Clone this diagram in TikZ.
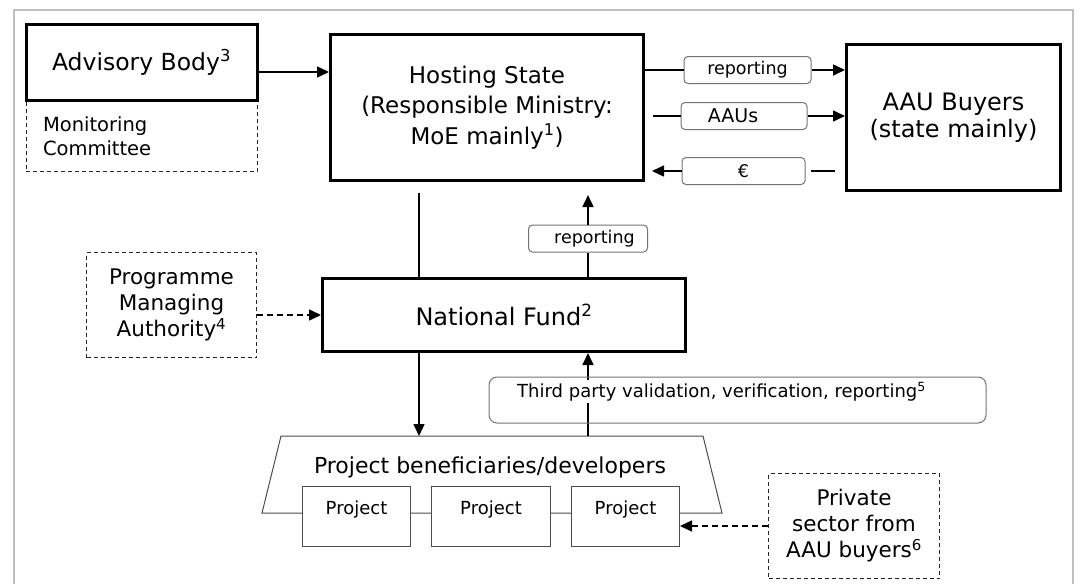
\documentclass[tikz,border=0pt]{standalone}
\usepackage{fontspec}
\setmainfont{DejaVu Sans}
\usetikzlibrary{arrows.meta}

\tikzset{
  thickbox/.style={draw, line width=3pt, align=center, inner sep=0pt},
  dashbox/.style={draw=black!85, line width=1pt, dash pattern=on 4pt off 3pt, align=center, inner sep=0pt},
  tag/.style={draw=black!55, line width=1pt, rounded corners=4pt, inner sep=0pt,
    minimum height=27pt, font=\fontsize{17.5}{21}\selectfont},
  projbox/.style={draw=black!70, line width=1pt, fill=white, minimum width=108pt,
    minimum height=60pt, inner sep=0pt, text depth=17pt, font=\fontsize{18}{22}\selectfont},
  arr/.style={line width=1.5pt, -{Triangle[length=12pt,width=11pt]}},
  darr/.style={arr, dash pattern=on 6pt off 4pt},
}

\begin{document}
\begin{tikzpicture}[x=1pt, y=-1pt]
  \useasboundingbox (0,0) rectangle (1080,584);
  \draw[black!25, line width=2pt] (14,600) -- (14,10) -- (1073,10) -- (1073,600); % frame
  %
  \coordinate (ya) at (0,72);
  \coordinate (cL) at (419,0);
  \coordinate (cR) at (588,0);
  %
  % top row
  \node[dashbox, minimum width=231pt, minimum height=70pt, text width=197pt, inner xsep=17pt,
    align=left, font=\fontsize{19.5}{24}\selectfont] (mon) at (141.5,136.5) {Monitoring\\Committee};
  \node[thickbox, minimum width=231pt, minimum height=76pt, font=\fontsize{23.5}{28}\selectfont]
    (adv) at (141.5,62) {Advisory Body\textsuperscript{3}};
  \node[thickbox, minimum width=313pt, minimum height=146pt, font=\fontsize{23}{30.5}\selectfont]
    (host) at (487,107.5) {Hosting State\\(Responsible Ministry:\\MoE mainly\textsuperscript{1})};
  \node[thickbox, minimum width=214pt, minimum height=146pt, font=\fontsize{24}{27}\selectfont]
    (buy) at (953.5,117.5) {AAU Buyers\\(state mainly)};
  %
  % labels between the top boxes
  \node[tag, minimum width=127pt] (rep1) at (747.5,70) {reporting};
  \node[tag, minimum width=126pt, font=\fontsize{19}{23}\selectfont] (aau) at (744,116) {AAUs\hspace*{22pt}};
  \node[tag, minimum width=123pt] (eur) at (743.5,171) {€};
  %
  \draw[arr] (adv.east |- ya) -- (host.west |- ya);
  \draw[line width=1.5pt] (host.east |- rep1) -- (rep1.west);
  \draw[arr] (rep1.east) -- (buy.west |- rep1);
  \draw[line width=1.5pt, shorten <=8pt] (host.east |- aau) -- (aau.west);
  \draw[arr] (aau.east) -- (buy.west |- aau);
  \draw[line width=1.5pt, shorten <=10pt, shorten >=5pt] (buy.west |- eur) -- (eur.east);
  \draw[arr, shorten >=7pt] (eur.west) -- (host.east |- eur);
  %
  % middle row
  \node[dashbox, minimum width=170pt, minimum height=105pt, font=\fontsize{21.5}{26}\selectfont]
    (pma) at (171.5,305) {Programme\\Managing\\Authority\textsuperscript{4}};
  \node[thickbox, minimum width=363pt, minimum height=73pt, font=\fontsize{24}{28}\selectfont]
    (fund) at (504,315) {National Fund\textsuperscript{2}};
  \node[tag, minimum width=119pt] (rep2) at (588,238.5) {\hspace*{13pt}reporting};
  %
  \draw[line width=1.5pt, shorten <=11pt] (host.south -| cL) -- (fund.north -| cL);
  \draw[line width=1.5pt] (fund.north -| cR) -- (rep2.south);
  \draw[arr, shorten >=13pt] (rep2.north) -- (host.south -| cR);
  \draw[darr] (pma.east |- fund) -- (fund.west);
  %
  % projects
  \draw[black!70, line width=1pt] (262,513) -- (281,436) -- (703,436) -- (722,513) -- cycle;
  \coordinate (btop) at (492,436);
  \node[font=\fontsize{22}{26}\selectfont] (benef) at (490,467) {Project beneficiaries/developers};
  \node[projbox] (p1) at (356.5,516.5) {Project};
  \node[projbox, minimum width=119pt] (p2) at (491,516.5) {Project};
  \node[projbox] (p3) at (625.5,516.5) {Project};
  %
  \draw[arr] (fund.south -| cL) -- (btop -| cL);
  \draw[arr] (btop -| cR) -- (fund.south -| cR);
  \node[draw=black!55, line width=1pt, rounded corners=8pt, minimum width=497pt, minimum height=46pt]
    (tpv) at (737.5,400) {};
  \node[anchor=west, fill=white, inner sep=1.5pt, font=\fontsize{18}{22}\selectfont]
    (tpvtext) at ([xshift=27pt,yshift=-15pt]tpv.north west)
    {Third party validation, verification, reporting\textsuperscript{5}};
  %
  \node[dashbox, minimum width=171pt, minimum height=105pt, font=\fontsize{21.5}{26}\selectfont]
    (priv) at (854,526) {Private\\sector from\\AAU buyers\textsuperscript{6}};
  \draw[darr] (priv.west) -- (priv.west -| p3.east);
\end{tikzpicture}
\end{document}
